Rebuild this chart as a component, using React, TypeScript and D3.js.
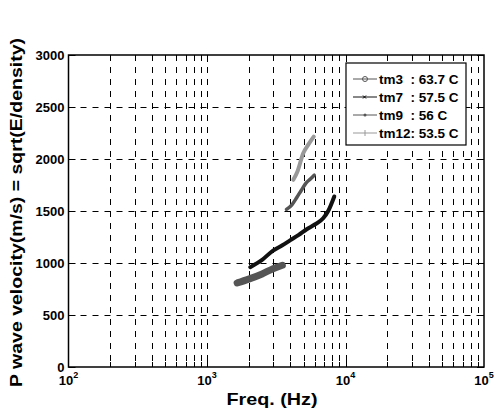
import React from "react";
import * as d3 from "d3";

const tm3Freq = [1650, 2000, 2500, 3000, 3500];
const tm3Vel = [808, 845, 895, 945, 978];
const tm7Freq = [2050, 2500, 3000, 3500, 4000, 4600, 5250, 6000, 6900, 7500, 8300];
const tm7Vel = [960, 1030, 1120, 1170, 1220, 1270, 1325, 1370, 1430, 1500, 1640];
const tm9Freq = [3750, 4100, 4450, 4800, 5200, 5600, 5950];
const tm9Vel = [1515, 1560, 1630, 1700, 1770, 1810, 1845];
const tm12Freq = [4200, 4500, 4950, 5400, 5900];
const tm12Vel = [1800, 1880, 2055, 2140, 2215];

const seriesNames = ["tm3", "tm7", "tm9", "tm12"];
const legendLabels = ["tm3  : 63.7 C", "tm7  : 57.5 C", "tm9  : 56 C", "tm12: 53.5 C"];
const yTicks = [0, 500, 1000, 1500, 2000, 2500, 3000];
const xDecades = [2, 3, 4, 5];

const W = 494, H = 414;
const M = { left: 68.5, right: 484, top: 55, bottom: 367 };

export default function App() {
  const x = d3.scaleLog().domain([100, 100000]).range([M.left, M.right]);
  const y = d3.scaleLinear().domain([0, 3000]).range([M.bottom, M.top]);
  const px = (v: number) => Math.round(v) + 0.5;

  const minor: number[] = [];
  for (let d = 2; d < 5; d++) for (let k = 2; k <= 9; k++) minor.push(k * Math.pow(10, d));
  const majors = [1000, 10000];

  const series = [
    { f: tm3Freq, v: tm3Vel, color: "#555555", width: 7 },
    { f: tm7Freq, v: tm7Vel, color: "#111111", width: 4 },
    { f: tm9Freq, v: tm9Vel, color: "#555555", width: 3.5 },
    { f: tm12Freq, v: tm12Vel, color: "#999999", width: 4 },
  ];
  const line = d3
    .line<[number, number]>()
    .x((d) => x(d[0]))
    .y((d) => y(d[1]))
    .curve(d3.curveMonotoneX);

  const font = "Arial, 'Liberation Sans', sans-serif";
  const dash = "6,6";
  const tl = 5;

  const lgX = 346, lgY = 63, lgW = 120, lgH = 82;
  const lgRow = [79, 97, 115, 133];
  const lgColors = ["#555555", "#111111", "#555555", "#999999"];

  return (
    <svg width={W} height={H} style={{ position: "absolute", left: 0, top: 0 }} fontFamily={font}>
      <rect x={0} y={0} width={W} height={H} fill="#fff" />
      {[...minor, ...majors].map((f, i) => (
        <line key={"vg" + i} x1={px(x(f))} x2={px(x(f))} y1={M.top} y2={M.bottom} stroke="#000" strokeWidth={1} strokeDasharray={dash} />
      ))}
      {yTicks.slice(1, -1).map((t) => (
        <line key={"hg" + t} x1={M.left} x2={M.right} y1={px(y(t))} y2={px(y(t))} stroke="#000" strokeWidth={1} strokeDasharray={dash} />
      ))}
      {[...minor, ...majors].map((f, i) => {
        const len = majors.includes(f) ? tl + 2 : tl;
        return (
          <g key={"xt" + i}>
            <line x1={px(x(f))} x2={px(x(f))} y1={M.bottom} y2={M.bottom - len} stroke="#000" />
            <line x1={px(x(f))} x2={px(x(f))} y1={M.top} y2={M.top + len} stroke="#000" />
          </g>
        );
      })}
      {yTicks.map((t) => (
        <g key={"yt" + t}>
          <line x1={M.left} x2={M.left + tl + 2} y1={px(y(t))} y2={px(y(t))} stroke="#000" />
          <line x1={M.right} x2={M.right - tl - 2} y1={px(y(t))} y2={px(y(t))} stroke="#000" />
        </g>
      ))}
      {series.map((s, i) => (
        <path
          key={"s" + i}
          d={line(s.f.map((f, j) => [f, s.v[j]] as [number, number])) || ""}
          fill="none"
          stroke={s.color}
          strokeWidth={s.width}
          strokeLinecap="round"
          strokeLinejoin="round"
        />
      ))}
      <rect x={M.left} y={M.top} width={M.right - M.left} height={M.bottom - M.top} fill="none" stroke="#000" strokeWidth={1.5} />
      {yTicks.map((t) => (
        <text key={"yl" + t} x={M.left - 4} y={y(t) + 4.5} textAnchor="end" fontSize={13} fontWeight="bold">
          {t}
        </text>
      ))}
      {xDecades.map((d) => (
        <text key={"xl" + d} x={x(Math.pow(10, d))} y={385} textAnchor="middle" fontSize={13} fontWeight="bold">
          10
          <tspan dy={-7} fontSize={9}>
            {d}
          </tspan>
        </text>
      ))}
      <text x={272} y={405} textAnchor="middle" fontSize={17} fontWeight="bold" textLength={91} lengthAdjust="spacingAndGlyphs">
        Freq. (Hz)
      </text>
      <text
        transform={`translate(22,212.5) rotate(-90)`}
        textAnchor="middle"
        fontSize={17}
        fontWeight="bold"
        textLength={349}
        lengthAdjust="spacingAndGlyphs"
      >
        P wave velocity(m/s) = sqrt(E/density)
      </text>
      <rect x={lgX} y={lgY} width={lgW} height={lgH} fill="#fff" stroke="#000" strokeWidth={1.2} />
      {seriesNames.map((n, i) => (
        <g key={"lg" + n}>
          <line x1={353} x2={377} y1={lgRow[i]} y2={lgRow[i]} stroke={lgColors[i]} strokeWidth={1} />
          {i === 0 && <circle cx={365} cy={lgRow[i]} r={2.5} fill="none" stroke={lgColors[i]} />}
          {i === 1 && (
            <path d={`M363,${lgRow[i] - 1.5}L366,${lgRow[i] + 1.5}M363,${lgRow[i] + 1.5}L366,${lgRow[i] - 1.5}`} stroke="#000" />
          )}
          {i === 2 && <circle cx={365} cy={lgRow[i]} r={1.5} fill={lgColors[i]} />}
          {i === 3 && <line x1={365} x2={365} y1={lgRow[i] - 3} y2={lgRow[i] + 3} stroke={lgColors[i]} />}
          <text x={379} y={lgRow[i] + 5} fontSize={13.5} fontWeight="bold" style={{ whiteSpace: "pre" }}>
            {legendLabels[i]}
          </text>
        </g>
      ))}
    </svg>
  );
}
